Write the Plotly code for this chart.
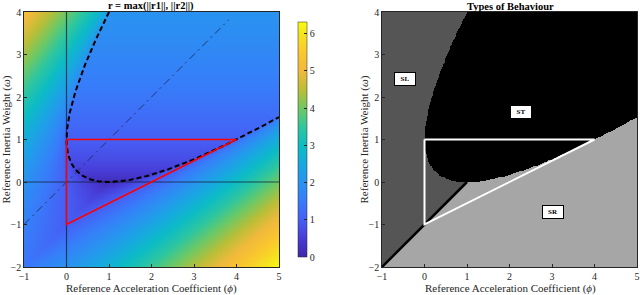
import numpy as np
import plotly.graph_objects as go

# ---- data ----
phi_range = [-1, 5]          # reference acceleration coefficient
w_range = [-2, 4]            # reference inertia weight
x_ticks = [-1, 0, 1, 2, 3, 4, 5]
y_ticks = [-2, -1, 0, 1, 2, 3, 4]
cbar_ticks = [0, 1, 2, 3, 4, 5, 6]
tri_phi = [0, 4, 0, 0]       # convergence triangle
tri_w = [1, 1, -1, 1]
diag_phi = [-1, 3.82]        # dash-dot line w = phi
diag_w = [-1, 3.82]
slsr_phi = [-1, 1]           # SL / SR boundary
slsr_w = [-2, 0]
labels = ["SL", "ST", "SR"]
label_phi = [-0.46, 2.27, 3.02]
label_w = [2.42, 1.65, -0.70]

# grid for the characteristic roots of  l^2 - (1 + w - phi) l + w = 0
phi = np.linspace(phi_range[0], phi_range[1], 301)
w = np.linspace(w_range[0], w_range[1], 301)
P, W = np.meshgrid(phi, w)
tr = 1 + W - P
disc = tr ** 2 - 4 * W
sq = np.sqrt(disc.astype(complex))
r = np.maximum(np.abs((tr + sq) / 2), np.abs((tr - sq) / 2))
behav = np.where(disc < 0, 1, np.where(tr > 0, 0, 2))  # 0 SL, 1 ST, 2 SR

# complex-root boundary (discriminant = 0)
wb_left = np.linspace(0, 4, 200)
pb_left = 1 + wb_left - 2 * np.sqrt(wb_left)
wb_right = np.linspace(0, 1.528, 120)
pb_right = 1 + wb_right + 2 * np.sqrt(wb_right)
par_phi = np.concatenate([pb_left[::-1], pb_right])
par_w = np.concatenate([wb_left[::-1], wb_right])

parula = [
    [0.00, "rgb(62,38,168)"], [0.08, "rgb(72,60,215)"], [0.16, "rgb(70,95,245)"],
    [0.24, "rgb(55,125,250)"], [0.32, "rgb(40,148,240)"], [0.40, "rgb(22,170,222)"],
    [0.47, "rgb(12,188,196)"], [0.55, "rgb(45,198,160)"], [0.63, "rgb(110,200,100)"],
    [0.71, "rgb(185,190,55)"], [0.79, "rgb(240,185,60)"], [0.87, "rgb(250,200,45)"],
    [0.95, "rgb(245,228,30)"], [1.00, "rgb(249,251,14)"],
]

FONT = "Liberation Serif"
TXT = "#262626"

fig = go.Figure()

H = 295.0
W_PX = 640.0
ydom = [1 - 267 / H, 1 - 12 / H]
xdom1 = [24 / W_PX, 279 / W_PX]
xdom2 = [382 / W_PX, 637 / W_PX]

fig.add_trace(go.Heatmap(
    x=phi, y=w, z=r, colorscale=parula, zmin=0, zmax=float(r.max()),
    xaxis="x", yaxis="y", zsmooth=False,
    colorbar=dict(x=288 / W_PX, xanchor="left", y=(ydom[0] + ydom[1]) / 2, yanchor="middle",
                  len=ydom[1] - ydom[0], lenmode="fraction", thickness=9,
                  tickvals=cbar_ticks, ticks="inside", ticklen=3, tickcolor=TXT,
                  outlinewidth=0.5, outlinecolor=TXT,
                  tickfont=dict(family=FONT, size=10, color=TXT)),
    hoverinfo="skip"))

# axis lines at phi=0 and w=0
fig.add_trace(go.Scatter(x=[0, 0], y=w_range, mode="lines",
                         line=dict(color="rgba(20,30,50,0.75)", width=1.2),
                         xaxis="x", yaxis="y", showlegend=False))
fig.add_trace(go.Scatter(x=phi_range, y=[0, 0], mode="lines",
                         line=dict(color="rgba(20,30,50,0.75)", width=1.2),
                         xaxis="x", yaxis="y", showlegend=False))
fig.add_trace(go.Scatter(x=diag_phi, y=diag_w, mode="lines",
                         line=dict(color="rgba(30,40,90,0.85)", width=1, dash="8px,4px,2px,4px"),
                         xaxis="x", yaxis="y", showlegend=False))
fig.add_trace(go.Scatter(x=par_phi, y=par_w, mode="lines",
                         line=dict(color="black", width=2, dash="5px,3px"),
                         xaxis="x", yaxis="y", showlegend=False))
fig.add_trace(go.Scatter(x=tri_phi, y=tri_w, mode="lines",
                         line=dict(color="rgb(255,0,0)", width=1.5),
                         xaxis="x", yaxis="y", showlegend=False))

# behaviour map
fig.add_trace(go.Heatmap(
    x=phi, y=w, z=behav, zmin=-0.5, zmax=2.5, zsmooth=False,
    colorscale=[[0, "#555555"], [1 / 3, "#555555"], [1 / 3, "#000000"], [2 / 3, "#000000"],
                [2 / 3, "#a6a6a6"], [1, "#a6a6a6"]],
    showscale=False, xaxis="x2", yaxis="y2", hoverinfo="skip"))
fig.add_trace(go.Scatter(x=slsr_phi, y=slsr_w, mode="lines",
                         line=dict(color="black", width=2.5),
                         xaxis="x2", yaxis="y2", showlegend=False))
fig.add_trace(go.Scatter(x=tri_phi, y=tri_w, mode="lines",
                         line=dict(color="white", width=2),
                         xaxis="x2", yaxis="y2", showlegend=False))

annotations = []
for t, px, wy in zip(labels, label_phi, label_w):
    annotations.append(dict(x=px, y=wy, xref="x2", yref="y2", text="<b>%s</b>" % t,
                            showarrow=False, bgcolor="white", bordercolor="black",
                            borderwidth=1, borderpad=1, width=18, height=10,
                            font=dict(family=FONT, size=7, color="black")))

def px_ann(x, y, text, size=11, angle=0, bold=False):
    return dict(x=x / W_PX, y=1 - y / H, xref="paper", yref="paper", text=text,
                showarrow=False, textangle=angle, xanchor="center", yanchor="middle",
                font=dict(family=FONT, size=size, color="black" if bold else TXT))

annotations += [
    px_ann(151, 6, "<b>r = max(||r1||, ||r2||)</b>", 10.5, bold=True),
    px_ann(510, 6, "<b>Types of Behaviour</b>", 10.5, bold=True),
    px_ann(151, 288, "Reference Acceleration Coefficient (<i>ϕ</i>)", 11),
    px_ann(510, 288, "Reference Acceleration Coefficient (<i>ϕ</i>)", 11),
    px_ann(6, 139.5, "Reference Inertia Weight (<i>ω</i>)", 11, angle=-90),
    px_ann(364, 139.5, "Reference Inertia Weight (<i>ω</i>)", 11, angle=-90),
]

axis_common = dict(showgrid=False, zeroline=False, ticks="inside", ticklen=3,
                   tickcolor=TXT, showline=True, linecolor=TXT, linewidth=0.5, mirror=True,
                   tickfont=dict(family=FONT, size=10, color=TXT), automargin=False)

fig.update_layout(
    width=640, height=295, margin=dict(l=0, r=0, t=0, b=0),
    paper_bgcolor="white", plot_bgcolor="white", showlegend=False,
    xaxis=dict(domain=xdom1, range=phi_range, tickvals=x_ticks, anchor="y", **axis_common),
    yaxis=dict(domain=ydom, range=w_range, tickvals=y_ticks, anchor="x", **axis_common),
    xaxis2=dict(domain=xdom2, range=phi_range, tickvals=x_ticks, anchor="y2", **axis_common),
    yaxis2=dict(domain=ydom, range=w_range, tickvals=y_ticks, anchor="x2", **axis_common),
    annotations=annotations,
)

fig.write_html("out.html", config={"displayModeBar": False},
               post_script="document.body.style.margin='0px';document.body.style.overflow='hidden';")
